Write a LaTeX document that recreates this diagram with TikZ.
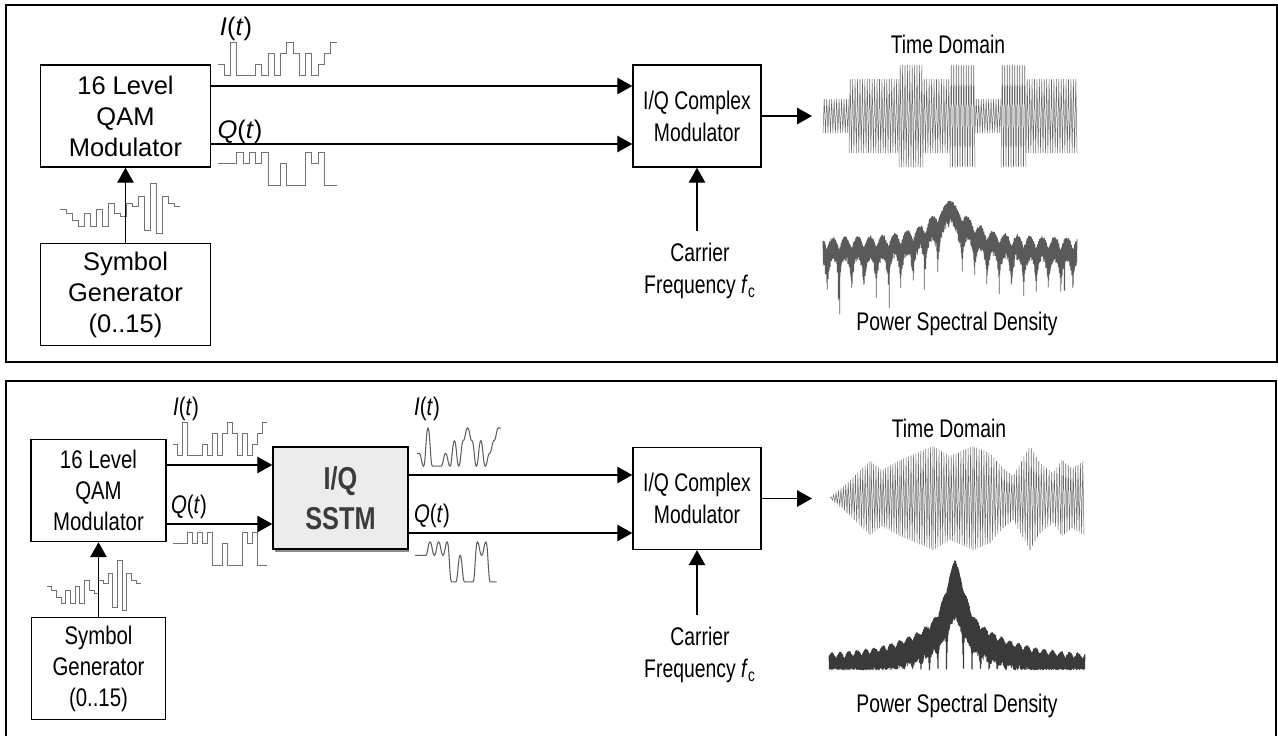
\documentclass[tikz,border=0pt]{standalone}
\usepackage{fontspec}
\setmainfont{Liberation Sans}
\newfontfamily\condfont{Liberation Sans}[FakeStretch=0.8]
\newfontfamily\narrowfont{Liberation Sans}[FakeStretch=0.76]
\usetikzlibrary{arrows.meta,shadows}

\definecolor{wavegray}{HTML}{727272}
\definecolor{smoothgray}{HTML}{5E5E5E}
\definecolor{tdgray}{HTML}{686868}
\definecolor{specgrayA}{HTML}{5A5A5A}
\definecolor{specgrayB}{HTML}{3A3A3A}
\definecolor{sstmfill}{HTML}{ECECEC}
\definecolor{sstmtext}{HTML}{3C3C3C}

\tikzset{
  lfont/.style={font=\fontsize{14.5}{17.6}\selectfont},
  cfont/.style={font=\condfont\fontsize{14.5}{17.6}\selectfont},
  nfont/.style={font=\narrowfont\fontsize{14.5}{18.2}\selectfont},
  block/.style={draw, line width=0.85pt, align=center, minimum height=2.04cm, minimum width=#1, inner sep=0pt},
  sstmbox/.style={block=2.7cm, fill=sstmfill, text=sstmtext,
    font=\condfont\bfseries\fontsize{18}{22.7}\selectfont,
    drop shadow={shadow xshift=0.03cm, shadow yshift=-0.05cm, fill=black!45, opacity=1}},
  sig/.style={line width=0.8pt, -{Triangle[length=0.3cm, width=0.33cm]}},
  panel/.style={line width=0.7pt},
  tag/.style={anchor=base, inner sep=0pt},
  fclabel/.style={nfont, anchor=north, align=center, inner xsep=0pt, inner ysep=0.24cm},
  wave/.style={draw=wavegray, line width=0.55pt},
  swave/.style={draw=smoothgray, line width=0.6pt},
  td/.style={draw=tdgray, line width=0.28pt},
  spectrumA/.style={draw=specgrayA, line width=0.4pt, line join=round},
  spectrumB/.style={draw=specgrayB, line width=0.4pt, line join=round},
  declare function={
    pA(\u)=(\u-950)/12.3;
    sA(\u)=ifthenelse(abs(pA(\u))<1,cos(90*pA(\u)),abs(sin(180*pA(\u))));
    topA(\u)=238-38/(1+((\u-950)/22)^2);
    specA(\u,\k)=topA(\u)+12*(1-sA(\u))+3*rnd
      +mod(\k,2)*(16+8*rnd-14*log10(sA(\u)+0.002)+ifthenelse(rnd>0.985,30,0));
    pB(\u)=(\u-955)/8.5;
    sB(\u)=ifthenelse(abs(pB(\u))<1,cos(90*pB(\u)),abs(sin(180*pB(\u))));
    topB(\u)=655-60*exp(-abs(\u-955)/40)-35*exp(-min(9,((\u-955)/12)^2));
    specB(\u,\k)=topB(\u)+6*(1-sB(\u))+2*rnd
      +mod(\k,2)*min(668-topB(\u)-6*(1-sB(\u)),10+5*rnd+0.4*(668-topB(\u))+(668-topB(\u))*abs(1-sB(\u))^10);
  }
}

% baseband waves: x0, ytop, symbol width, level step, first level, other levels
\newcommand\stepwave[6]{%
  \draw[wave] (#1,{#2+#5*#4}) foreach \lv [count=\k] in {#6} {-| ({#1+\k*#3},{#2+\lv*#4})} -- ++(#3,0);}
\newcommand\smoothwave[6]{%
  \draw[swave] (#1,{#2+#5*#4}) -- ++(0.5*#3,0) foreach \lv [count=\k] in {#6}
    {.. controls +(0.45*#3,0) and +(-0.45*#3,0) .. ({#1+0.5*#3+\k*#3},{#2+\lv*#4})} -- ++(0.5*#3,0);}

\begin{document}
\begin{tikzpicture}[x=0.02cm, y=-0.02cm]
  \useasboundingbox (0,0) rectangle (1278,735);
  \pgfmathsetseed{11}
  \draw[panel] (6,5) rectangle (1277,362);
  \draw[panel] (6,381) rectangle (1276,740);

  % upper panel
  \node[block=3.4cm, lfont] (qamA) at (125.5,116) {16 Level\\QAM\\Modulator};
  \node[block=3.4cm, lfont] (symA) at (125.5,294.5) {Symbol\\Generator\\(0..15)};
  \node[block=2.56cm, nfont] (cmodA) at (697,116) {I/Q Complex\\Modulator};
  \node[fclabel] (carA) at (700,231) {Carrier\\Frequency \textit{f}\textsubscript{c}};
  \node[tag, lfont] (iA) at (236,35) {\textit{I}(\textit{t})};
  \node[tag, lfont] (qA) at (240,138) {\textit{Q}(\textit{t})};
  \node[tag, nfont] (tdA) at (948,53) {Time Domain};
  \node[tag, nfont] (psdA) at (957,330) {Power Spectral Density};

  \stepwave{60}{183}{6}{3.37}{8}{9,11,13,9,13,8,13,6,9,10,6,7,4,14,0,15,4,6,7}
  \stepwave{218}{42}{6.26}{11.3}{2}{3,0,3,3,3,2,3,1,3,1,0,1,3,1,3,2,1,0}
  \stepwave{218}{152}{6.26}{11.3}{1}{1,1,0,1,0,1,0,3,3,1,3,3,3,0,1,0,3,3}

  \foreach \ua/\ub/\va in {823/849/17, 849/899/37, 899/923/51, 923/950/37, 950/975/51, 975/1001/17, 1001/1026/51, 1026/1077/37}{
    \pgfmathtruncatemacro\n{(\ub-\ua)/1.2}
    \pgfmathtruncatemacro\m{\n+1}
    \draw[td] plot[domain=0:\n, samples=\m] ({\ua+\x*(\ub-\ua)/\n},{116+\va*cos(180*\x)});
  }
  \draw[spectrumA] plot[domain=0:1016, samples=1017] ({823+\x*0.25},{specA(823+\x*0.25,\x)});

  \coordinate (yIA) at (0,86);
  \coordinate (yQA) at (0,144);
  \coordinate (outA) at (812,116);
  \draw[sig] (qamA.east |- yIA) -- (cmodA.west |- yIA);
  \draw[sig] (qamA.east |- yQA) -- (cmodA.west |- yQA);
  \draw[sig] (symA) -- (qamA);
  \draw[sig] (cmodA.east) -- (outA);
  \draw[sig] (carA.north -| cmodA.south) -- (cmodA.south);

  % lower panel
  \node[block=2.7cm, cfont] (qamB) at (98.5,490.5) {16 Level\\QAM\\Modulator};
  \node[block=2.68cm, cfont] (symB) at (98.5,668.5) {Symbol\\Generator\\(0..15)};
  \node[sstmbox] (sstm) at (340.5,498) {I/Q\\SSTM};
  \node[block=2.56cm, nfont] (cmodB) at (697,498.5) {I/Q Complex\\Modulator};
  \node[fclabel] (carB) at (700,615) {Carrier\\Frequency \textit{f}\textsubscript{c}};
  \node[tag, cfont] (iB) at (186,415) {\textit{I}(\textit{t})};
  \node[tag, cfont] (qB) at (189,513) {\textit{Q}(\textit{t})};
  \node[tag, cfont] (iC) at (427,415) {\textit{I}(\textit{t})};
  \node[tag, cfont] (qC) at (432,522) {\textit{Q}(\textit{t})};
  \node[tag, nfont] (tdB) at (949,437) {Time Domain};
  \node[tag, nfont] (psdB) at (957,712) {Power Spectral Density};

  \stepwave{47}{560}{4.7}{3.37}{8}{9,11,13,9,13,8,13,6,9,10,6,7,4,14,0,15,4,6,7}
  \stepwave{173}{422}{4.95}{11.3}{2}{3,0,3,3,3,2,3,1,3,1,0,1,3,1,3,2,1,0}
  \stepwave{173}{532}{4.95}{11.3}{1}{1,1,0,1,0,1,0,3,3,1,3,3,3,0,1,0,3,3}
  \smoothwave{417}{428}{4.4}{12.7}{2}{3,0,3,3,3,2,3,1,3,1,0,1,3,1,3,2,1,0}
  \smoothwave{415}{542}{4.3}{13.3}{1}{1,1,0,1,0,1,0,3,3,1,3,3,3,0,1,0,3,3}

  \foreach \ua/\va/\ub/\vb in {830/0/847/15, 847/15/870/37, 870/37/882/28, 882/28/900/38, 900/38/933/52, 933/52/950/42, 950/42/973/52, 973/52/990/45, 990/45/1003/30, 1003/30/1013/22, 1013/22/1030/52, 1030/52/1040/35, 1040/35/1053/25, 1053/25/1062/38, 1062/38/1072/30, 1072/30/1084/37}{
    \pgfmathtruncatemacro\n{(\ub-\ua)/1.2}
    \pgfmathtruncatemacro\m{\n+1}
    \draw[td] plot[domain=0:\n, samples=\m] ({\ua+\x*(\ub-\ua)/\n},{498+(\va+(\vb-\va)*\x/\n)*cos(180*\x)});
  }
  \draw[spectrumB] plot[domain=0:1024, samples=1025] ({829+\x*0.25},{specB(829+\x*0.25,\x)});

  \coordinate (yIB) at (0,465);
  \coordinate (yQB) at (0,524);
  \coordinate (yIC) at (0,475);
  \coordinate (yQC) at (0,533);
  \coordinate (outB) at (812,498.5);
  \draw[sig] (qamB.east |- yIB) -- (sstm.west |- yIB);
  \draw[sig] (qamB.east |- yQB) -- (sstm.west |- yQB);
  \draw[sig] (sstm.east |- yIC) -- (cmodB.west |- yIC);
  \draw[sig] (sstm.east |- yQC) -- (cmodB.west |- yQC);
  \draw[sig] (symB) -- (qamB);
  \draw[sig] (cmodB.east) -- (outB);
  \draw[sig] (carB.north -| cmodB.south) -- (cmodB.south);
\end{tikzpicture}
\end{document}
